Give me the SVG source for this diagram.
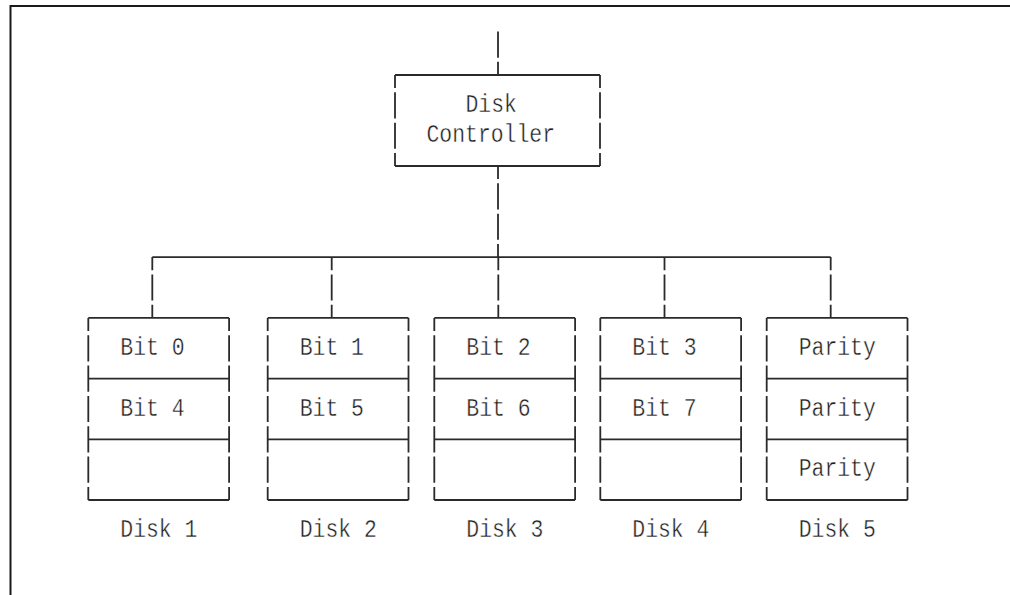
<svg xmlns="http://www.w3.org/2000/svg" width="1010" height="595" viewBox="0 0 1010 595">
<style>
.frame{stroke:#1a1a1a;stroke-width:2;fill:none}
.h{stroke:#2a2a2a;stroke-width:1.8;fill:none}
.v{stroke:#2a2a2a;stroke-width:1.8;fill:none;stroke-dasharray:26.2 4.16;stroke-dashoffset:13.08}
.t{font-family:"Liberation Mono","DejaVu Sans Mono",monospace;font-size:25px;fill:#1e1e1e;stroke:#ffffff;stroke-width:0.4}
</style>
<rect width="1010" height="595" fill="#ffffff"/>
<g id="frame">
<line class="frame" x1="10.5" y1="6" x2="1010" y2="6"/>
<line class="frame" x1="10.5" y1="5" x2="10.5" y2="595"/>
</g>
<g id="connectors">
<line class="v" x1="498" y1="31.5" x2="498" y2="75" style="stroke-dashoffset:0"/>
<line class="v" x1="498" y1="166" x2="498" y2="257.1"/>
<line class="h" x1="152.3" y1="257.1" x2="830.7" y2="257.1"/>
<line class="v" x1="152.3" y1="257.1" x2="152.3" y2="317.9"/>
<line class="v" x1="331.7" y1="257.1" x2="331.7" y2="317.9"/>
<line class="v" x1="498.3" y1="257.1" x2="498.3" y2="317.9"/>
<line class="v" x1="664.5" y1="257.1" x2="664.5" y2="317.9"/>
<line class="v" x1="830.7" y1="257.1" x2="830.7" y2="317.9"/>
</g>
<g id="controller">
<line class="h" x1="395" y1="75" x2="600" y2="75"/>
<line class="h" x1="395" y1="166" x2="600" y2="166"/>
<line class="v" x1="395" y1="75" x2="395" y2="166"/>
<line class="v" x1="600" y1="75" x2="600" y2="166"/>
<text class="t" x="465.5" y="112" textLength="51.4" lengthAdjust="spacingAndGlyphs">Disk</text>
<text class="t" x="426.5" y="141.5" textLength="128.5" lengthAdjust="spacingAndGlyphs">Controller</text>
</g>
<g id="disk1">
<line class="h" x1="88.3" y1="317.9" x2="229.1" y2="317.9"/>
<line class="h" x1="88.3" y1="378.6" x2="229.1" y2="378.6"/>
<line class="h" x1="88.3" y1="439.3" x2="229.1" y2="439.3"/>
<line class="h" x1="88.3" y1="500" x2="229.1" y2="500"/>
<line class="v" x1="88.3" y1="317.9" x2="88.3" y2="500"/>
<line class="v" x1="229.1" y1="317.9" x2="229.1" y2="500"/>
<text class="t" x="120.3" y="355" textLength="64.25" lengthAdjust="spacingAndGlyphs">Bit 0</text>
<text class="t" x="120.3" y="415.5" textLength="64.25" lengthAdjust="spacingAndGlyphs">Bit 4</text>
<text class="t" x="120.3" y="537" textLength="77.1" lengthAdjust="spacingAndGlyphs">Disk 1</text>
</g>
<g id="disk2">
<line class="h" x1="267.7" y1="317.9" x2="408.5" y2="317.9"/>
<line class="h" x1="267.7" y1="378.6" x2="408.5" y2="378.6"/>
<line class="h" x1="267.7" y1="439.3" x2="408.5" y2="439.3"/>
<line class="h" x1="267.7" y1="500" x2="408.5" y2="500"/>
<line class="v" x1="267.7" y1="317.9" x2="267.7" y2="500"/>
<line class="v" x1="408.5" y1="317.9" x2="408.5" y2="500"/>
<text class="t" x="299.7" y="355" textLength="64.25" lengthAdjust="spacingAndGlyphs">Bit 1</text>
<text class="t" x="299.7" y="415.5" textLength="64.25" lengthAdjust="spacingAndGlyphs">Bit 5</text>
<text class="t" x="299.7" y="537" textLength="77.1" lengthAdjust="spacingAndGlyphs">Disk 2</text>
</g>
<g id="disk3">
<line class="h" x1="434.3" y1="317.9" x2="575.1" y2="317.9"/>
<line class="h" x1="434.3" y1="378.6" x2="575.1" y2="378.6"/>
<line class="h" x1="434.3" y1="439.3" x2="575.1" y2="439.3"/>
<line class="h" x1="434.3" y1="500" x2="575.1" y2="500"/>
<line class="v" x1="434.3" y1="317.9" x2="434.3" y2="500"/>
<line class="v" x1="575.1" y1="317.9" x2="575.1" y2="500"/>
<text class="t" x="466.3" y="355" textLength="64.25" lengthAdjust="spacingAndGlyphs">Bit 2</text>
<text class="t" x="466.3" y="415.5" textLength="64.25" lengthAdjust="spacingAndGlyphs">Bit 6</text>
<text class="t" x="466.3" y="537" textLength="77.1" lengthAdjust="spacingAndGlyphs">Disk 3</text>
</g>
<g id="disk4">
<line class="h" x1="600.3" y1="317.9" x2="741.1" y2="317.9"/>
<line class="h" x1="600.3" y1="378.6" x2="741.1" y2="378.6"/>
<line class="h" x1="600.3" y1="439.3" x2="741.1" y2="439.3"/>
<line class="h" x1="600.3" y1="500" x2="741.1" y2="500"/>
<line class="v" x1="600.3" y1="317.9" x2="600.3" y2="500"/>
<line class="v" x1="741.1" y1="317.9" x2="741.1" y2="500"/>
<text class="t" x="632.3" y="355" textLength="64.25" lengthAdjust="spacingAndGlyphs">Bit 3</text>
<text class="t" x="632.3" y="415.5" textLength="64.25" lengthAdjust="spacingAndGlyphs">Bit 7</text>
<text class="t" x="632.3" y="537" textLength="77.1" lengthAdjust="spacingAndGlyphs">Disk 4</text>
</g>
<g id="disk5">
<line class="h" x1="766.7" y1="317.9" x2="907.5" y2="317.9"/>
<line class="h" x1="766.7" y1="378.6" x2="907.5" y2="378.6"/>
<line class="h" x1="766.7" y1="439.3" x2="907.5" y2="439.3"/>
<line class="h" x1="766.7" y1="500" x2="907.5" y2="500"/>
<line class="v" x1="766.7" y1="317.9" x2="766.7" y2="500"/>
<line class="v" x1="907.5" y1="317.9" x2="907.5" y2="500"/>
<text class="t" x="798.7" y="355" textLength="77.1" lengthAdjust="spacingAndGlyphs">Parity</text>
<text class="t" x="798.7" y="415.5" textLength="77.1" lengthAdjust="spacingAndGlyphs">Parity</text>
<text class="t" x="798.7" y="476" textLength="77.1" lengthAdjust="spacingAndGlyphs">Parity</text>
<text class="t" x="798.7" y="537" textLength="77.1" lengthAdjust="spacingAndGlyphs">Disk 5</text>
</g>
</svg>
